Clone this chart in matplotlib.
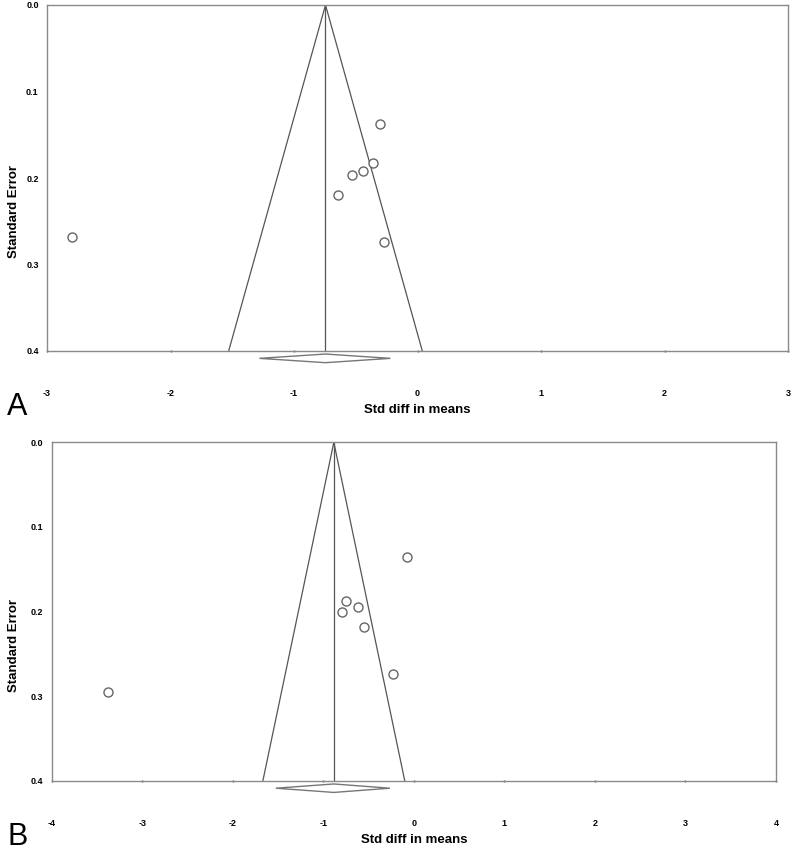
import matplotlib
matplotlib.use("Agg")
import matplotlib.pyplot as plt
import numpy as np

plt.rcParams['font.family'] = ['Liberation Sans', 'DejaVu Sans']

# Panel A data
a_effect = [-0.30, -0.36, -0.443, -0.534, -0.645, -0.273, -2.80]
a_se = [0.137, 0.183, 0.192, 0.197, 0.220, 0.274, 0.268]
a_pooled = -0.745
a_ci = (-1.28, -0.22)
a_xticks = [-3, -2, -1, 0, 1, 2, 3]

# Panel B data
b_effect = [-0.073, -0.744, -0.614, -0.796, -0.552, -0.232, -3.374]
b_se = [0.136, 0.187, 0.194, 0.200, 0.218, 0.274, 0.295]
b_pooled = -0.884
b_ci = (-1.525, -0.265)
b_xticks = [-4, -3, -2, -1, 0, 1, 2, 3, 4]

yticks = [0.0, 0.1, 0.2, 0.3, 0.4]
letters = ["A", "B"]

W, H = 800, 860
fig = plt.figure(figsize=(8, 8.6), dpi=100)

def px_axes(l, t, r, b):
    return fig.add_axes([l / W, 1 - b / H, (r - l) / W, (b - t) / H])

def panel(ax, eff, se, pooled, ci, xticks, letter, label_y_px, letter_y_px):
    frame = "#8a8a8a"
    line = "#555555"
    semax = 0.4
    ax.set_xlim(xticks[0], xticks[-1])
    ax.set_ylim(semax, 0.0)
    # funnel
    ax.plot([pooled - 1.96 * semax, pooled, pooled + 1.96 * semax],
            [semax, 0.0, semax], color=line, lw=0.9)
    ax.plot([pooled, pooled], [0.0, semax], color=line, lw=0.9)
    # points
    ax.plot(eff, se, linestyle="none", marker="o", markersize=6.5,
            markerfacecolor="white", markeredgecolor="#666666", markeredgewidth=1.0,
            clip_on=False, zorder=5)
    # diamond
    yc = semax + 0.0085
    hh = 0.005
    ax.fill([ci[0], pooled, ci[1], pooled], [yc, yc - hh, yc, yc + hh],
            facecolor="white", edgecolor="#777777", lw=1.0, clip_on=False, zorder=6)
    for s in ax.spines.values():
        s.set_color(frame)
        s.set_linewidth(1.0)
    ax.set_xticks(xticks)
    ax.set_xticklabels([str(t) for t in xticks], fontsize=6.5, fontweight="bold")
    ax.set_yticks(yticks)
    ax.set_yticklabels(["%.1f" % t for t in yticks], fontsize=6.5, fontweight="bold")
    ax.tick_params(axis="x", length=2, width=1, color="#555555", direction="inout", pad=26)
    ax.tick_params(axis="y", length=0, pad=6)
    ax.set_xlabel("Std diff in means", fontsize=9.5, fontweight="bold", labelpad=5)
    fig.text(14 / W, 1 - label_y_px / H, "Standard Error", rotation=90,
             fontsize=9.5, fontweight="bold", ha="center", va="center")
    fig.text(7 / W, 1 - letter_y_px / H, letter, fontsize=22,
             ha="left", va="center")

axA = px_axes(47, 5, 788, 351)
panel(axA, a_effect, a_se, a_pooled, a_ci, a_xticks, letters[0], 212, 407)
axB = px_axes(51.7, 442.3, 776, 781)
panel(axB, b_effect, b_se, b_pooled, b_ci, b_xticks, letters[1], 645, 837)

fig.savefig("out.png", dpi=100)
